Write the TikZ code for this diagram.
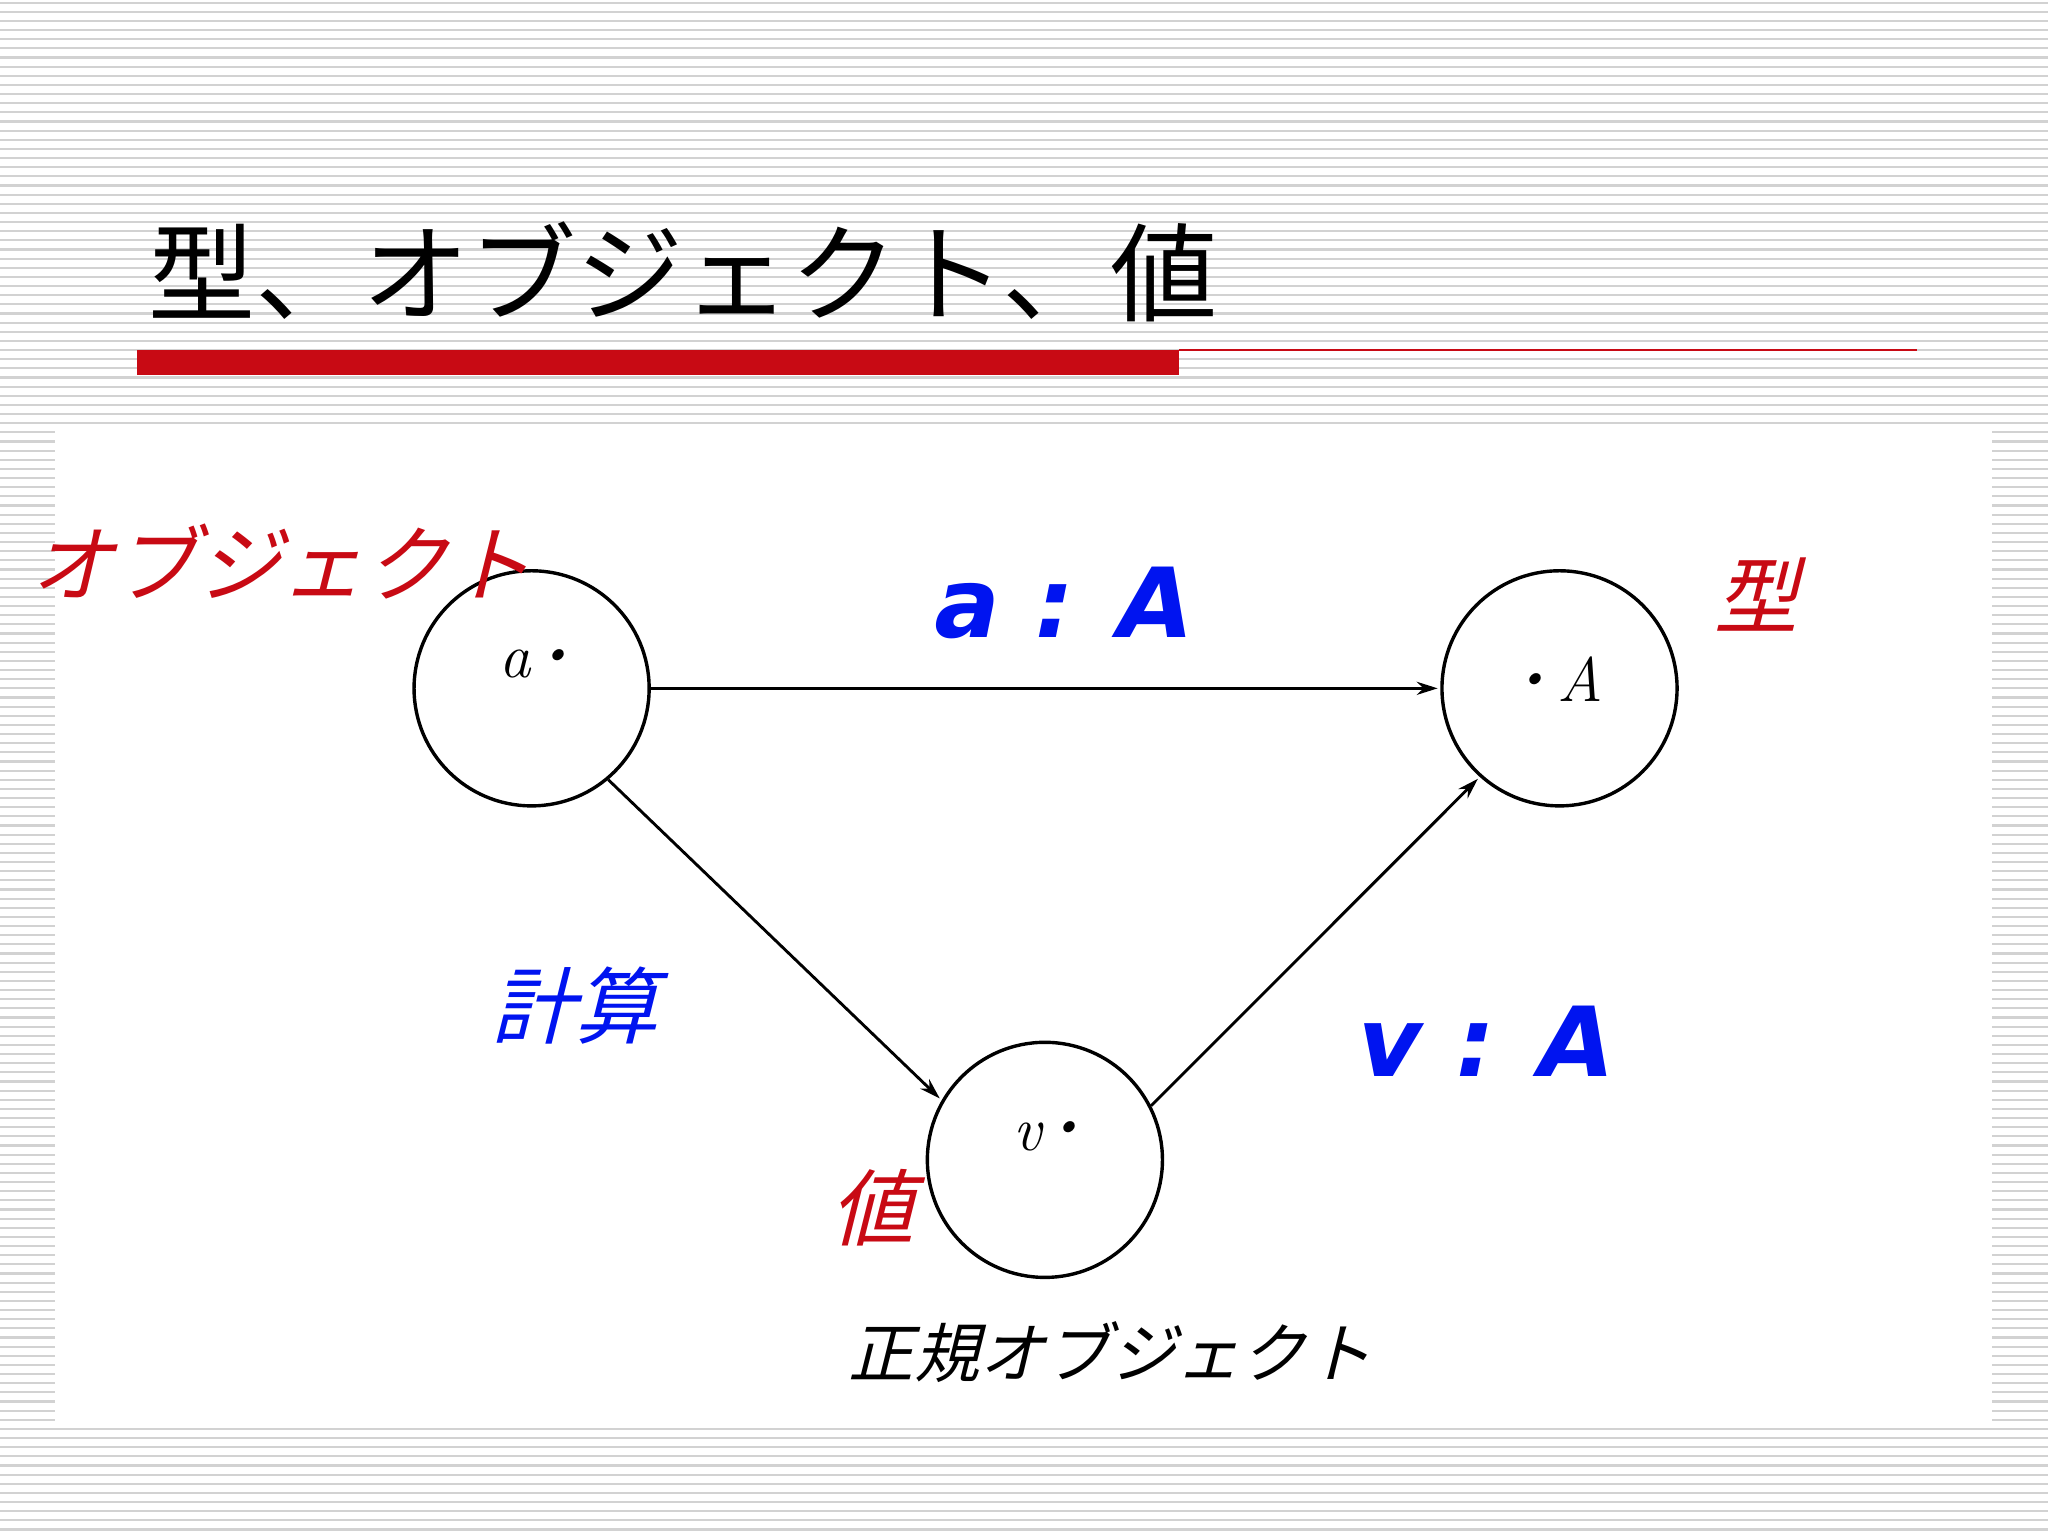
\documentclass[tikz,border=0pt]{standalone}
\usepackage{fontspec}
\usetikzlibrary{arrows.meta}
\newfontfamily\cjk{Noto Sans CJK JP}
\newfontfamily\cjki[FakeSlant=0.25]{Noto Sans CJK JP}
\newfontfamily\bsans[FakeSlant=0.2]{DejaVu Sans Bold}
\definecolor{rd}{RGB}{200,10,20}
\definecolor{bl}{RGB}{0,20,240}
\begin{document}
\begin{tikzpicture}[x=1pt,y=-1pt,
  circ/.style={circle,draw,line width=2.6pt,minimum size=180pt,inner sep=0pt},
  arr/.style={-{Stealth[length=16pt,width=10pt]},line width=2.2pt,shorten >=2pt},
  big/.style={font=\fontsize{74}{84}\selectfont\bsans\color{bl}},
  sm/.style={font=\fontsize{48}{52}\selectfont\itshape},
  jlab/.style={font=\fontsize{64}{70}\selectfont\cjki}]
\useasboundingbox (0,0) rectangle (1568,1176);
\fill[white] (0,0) rectangle (1568,1176);
\foreach \i in {0,...,168} {\draw[gray!35,line width=1.6pt] (0,\i*7+2) -- (1568,\i*7+2);}
\fill[white] (42,330) rectangle (1525,1092);
\node[anchor=west,font=\fontsize{82}{86}\selectfont\cjk] (title) at (110,208) {型、オブジェクト、値};
\fill[rd] (105,268) rectangle (903,287);
\draw[rd,line width=2pt] (903,268) -- (1468,268);
\node[circ] (a) at (407,527) {};
\node[circ] (A) at (1194,527) {};
\node[circ] (v) at (800,888) {};
\node[sm] (la) at (410,508) {a\,\raisebox{10pt}{\fontsize{30}{30}\selectfont\textbullet}};
\node[sm] (lA) at (1195,520) {\raisebox{10pt}{\fontsize{30}{30}\selectfont\textbullet}\,A};
\node[sm] (lv) at (802,870) {v\,\raisebox{10pt}{\fontsize{30}{30}\selectfont\textbullet}};
\draw[arr] (a.east) -- (A.west);
\draw[arr] (a.-50) -- (v.150);
\draw[arr] (v.27) -- (A.-132);
\node[big] (t1) at (810,462) {a : A};
\node[big] (t2) at (1133,797) {v : A};
\node[jlab,color=bl] (k) at (440,770) {計算};
\node[jlab,color=rd] (ty) at (1345,455) {型};
\node[jlab,color=rd] (va) at (668,925) {値};
\node[jlab,color=rd] (ob) at (215,430) {オブジェクト};
\node[font=\fontsize{50}{56}\selectfont\cjki] (no) at (850,1035) {正規オブジェクト};
\end{tikzpicture}
\end{document}
